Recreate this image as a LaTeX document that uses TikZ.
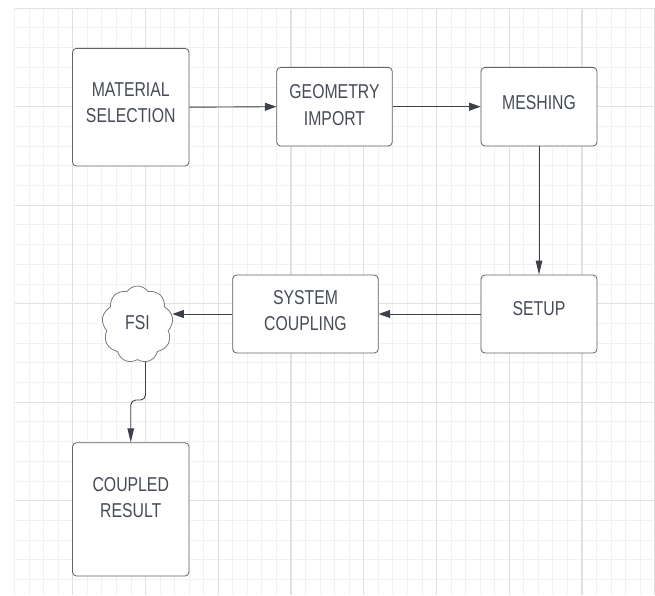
\documentclass[tikz,border=0pt]{standalone}
\usepackage{fontspec}
\setmainfont{Liberation Sans}
\usetikzlibrary{arrows.meta}
\usetikzlibrary{shapes.symbols}
\usetikzlibrary{calc}
\definecolor{gridminor}{HTML}{F1F1F1}
\definecolor{gridmajor}{HTML}{E0E0E0}
\definecolor{boxline}{HTML}{5F636A}
\definecolor{boxtext}{HTML}{464C56}
\definecolor{arrowline}{HTML}{3C4149}
\newcommand{\blocktext}[2][0pt]{%
	\raisebox{#1}[\height][\depth]{\scalebox{1}[1.27]{\begin{tabular}{@{}c@{}}#2\end{tabular}}}%
}
\tikzset{
	gridmin/.style={draw=gridminor, line width=0.9pt},
	gridmaj/.style={draw=gridmajor, line width=1.1pt},
	procbox/.style={draw=boxline, line width=0.8pt, rounded corners=4pt, fill=white, inner sep=0pt, text=boxtext, font=\fontsize{15.8}{20.8}\selectfont},
	fsicloud/.style={cloud, cloud puffs=9, cloud puff arc=110, draw=boxline!85, line width=0.8pt, fill=white, inner sep=0pt, text=boxtext, font=\fontsize{15.8}{20.8}\selectfont},
	harrow/.style={draw=arrowline, line width=0.9pt, -{Triangle[length=11.5pt,width=8pt]}},
	varrow/.style={draw=arrowline, line width=0.9pt, -{Triangle[length=14pt,width=6.5pt]}},
}

\begin{document}
\begin{tikzpicture}[x=1pt, y=-1pt]

\fill[white] (0,0) rectangle (655,595);
\useasboundingbox (0,0) rectangle (655,595);

% background grid
\foreach \k in {1,...,45}
	\draw[gridmin] (\k*14.55,8.2) -- (\k*14.55,595);
\foreach \j in {0,...,29}
	\draw[gridmin] (14.55,8.2+\j*19.7) -- (655,8.2+\j*19.7);
\foreach \k in {5,10,...,45}
	\draw[gridmaj] (\k*14.55,8.2) -- (\k*14.55,595);
\foreach \j in {0,5,...,25}
	\draw[gridmaj] (14.55,8.2+\j*19.7) -- (655,8.2+\j*19.7);

% blocks
\node[procbox, minimum width=116.5pt, minimum height=117.7pt] (material) at (130.75,107.2) {\blocktext[3pt]{MATERIAL\\SELECTION}};
\node[procbox, minimum width=115.5pt, minimum height=78.7pt] (geometry) at (334.5,106.7) {\blocktext{GEOMETRY\\IMPORT}};
\node[procbox, minimum width=116pt, minimum height=78.7pt] (meshing) at (539,106.7) {\blocktext[2pt]{MESHING}};
\node[procbox, minimum width=116pt, minimum height=78pt] (setup) at (539,314) {\blocktext[4pt]{SETUP}};
\node[procbox, minimum width=145.6pt, minimum height=78pt] (syscoup) at (305.5,314) {\blocktext[2pt]{SYSTEM\\COUPLING}};
\node[fsicloud, minimum width=71pt, minimum height=77pt] (fsi) at (137.5,324.5) {\blocktext{FSI}};
\node[procbox, minimum width=116.5pt, minimum height=133.3pt] (result) at (130.75,509.4) {\blocktext[10pt]{COUPLED\\RESULT}};

% flow
\draw[harrow] (material.east) -- (geometry.west);
\draw[harrow] (geometry.east) -- (meshing.west);
\draw[varrow] (meshing.south) -- (setup.north);
\draw[harrow] (setup.west) -- (syscoup.east);
\draw[harrow] (syscoup.west) -- (fsi.east |- syscoup.west);
\draw[varrow, rounded corners=5pt] (fsi.-78) -- ++(0,38) -| (result.north);

\end{tikzpicture}
\end{document}
